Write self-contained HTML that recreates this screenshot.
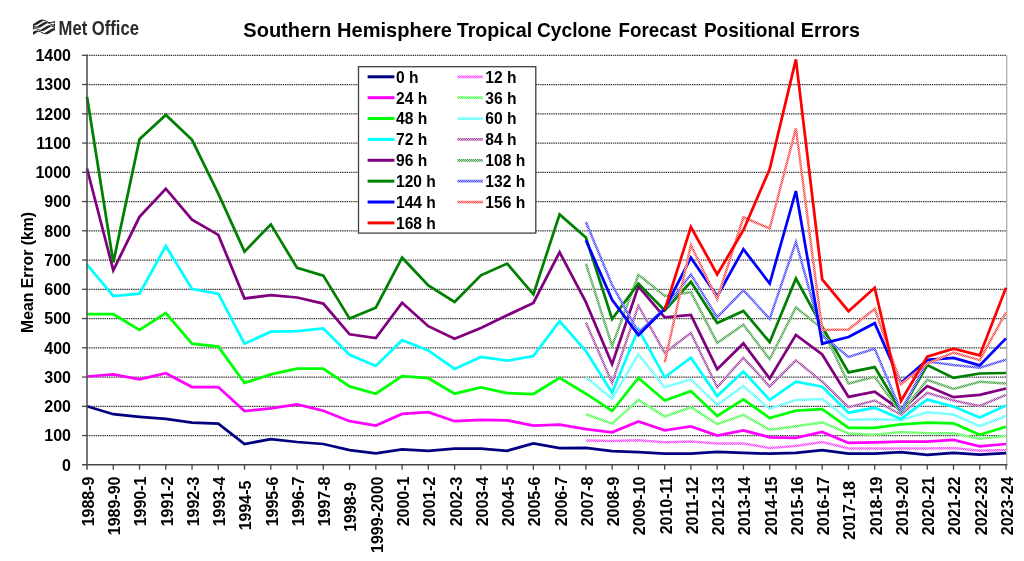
<!DOCTYPE html>
<html><head><meta charset="utf-8"><title>Southern Hemisphere Tropical Cyclone Forecast Positional Errors</title>
<style>
html,body{margin:0;padding:0;background:#fff;}
body{width:1024px;height:561px;overflow:hidden;font-family:"Liberation Sans",sans-serif;}
svg{display:block;}
text{font-family:"Liberation Sans",sans-serif;font-weight:bold;fill:#000;}
svg{will-change:transform;}
</style></head><body>
<svg width="1024" height="561" viewBox="0 0 1024 561">
<rect width="1024" height="561" fill="#fff"/>

<defs>
<pattern id="h108" patternUnits="userSpaceOnUse" width="2" height="2"><rect width="2" height="2" fill="#b8dbb8"/><rect x="0" y="0" width="1" height="1" fill="#47a447"/><rect x="1" y="1" width="1" height="1" fill="#47a447"/></pattern>
<pattern id="h12" patternUnits="userSpaceOnUse" width="2" height="2"><rect width="2" height="2" fill="#ffb8ff"/><rect x="0" y="0" width="1" height="1" fill="#ff47ff"/><rect x="1" y="1" width="1" height="1" fill="#ff47ff"/></pattern>
<pattern id="h132" patternUnits="userSpaceOnUse" width="2" height="2"><rect width="2" height="2" fill="#b8b8ff"/><rect x="0" y="0" width="1" height="1" fill="#4747ff"/><rect x="1" y="1" width="1" height="1" fill="#4747ff"/></pattern>
<pattern id="h156" patternUnits="userSpaceOnUse" width="2" height="2"><rect width="2" height="2" fill="#ffb8b8"/><rect x="0" y="0" width="1" height="1" fill="#ff4747"/><rect x="1" y="1" width="1" height="1" fill="#ff4747"/></pattern>
<pattern id="h36" patternUnits="userSpaceOnUse" width="2" height="2"><rect width="2" height="2" fill="#b8ffb8"/><rect x="0" y="0" width="1" height="1" fill="#47ff47"/><rect x="1" y="1" width="1" height="1" fill="#47ff47"/></pattern>
<pattern id="h60" patternUnits="userSpaceOnUse" width="2" height="2"><rect width="2" height="2" fill="#b8ffff"/><rect x="0" y="0" width="1" height="1" fill="#47ffff"/><rect x="1" y="1" width="1" height="1" fill="#47ffff"/></pattern>
<pattern id="h84" patternUnits="userSpaceOnUse" width="2" height="2"><rect width="2" height="2" fill="#dbb8db"/><rect x="0" y="0" width="1" height="1" fill="#a447a4"/><rect x="1" y="1" width="1" height="1" fill="#a447a4"/></pattern>
</defs>
<text x="243.30" y="36.5" font-size="19.8" textLength="87.90" lengthAdjust="spacingAndGlyphs">Southern</text>
<text x="337.00" y="36.5" font-size="19.8" textLength="114.85" lengthAdjust="spacingAndGlyphs">Hemisphere</text>
<text x="456.70" y="36.5" font-size="19.8" textLength="75.50" lengthAdjust="spacingAndGlyphs">Tropical</text>
<text x="537.00" y="36.5" font-size="19.8" textLength="74.50" lengthAdjust="spacingAndGlyphs">Cyclone</text>
<text x="618.60" y="36.5" font-size="19.8" textLength="78.25" lengthAdjust="spacingAndGlyphs">Forecast</text>
<text x="703.90" y="36.5" font-size="19.8" textLength="91.10" lengthAdjust="spacingAndGlyphs">Positional</text>
<text x="800.80" y="36.5" font-size="19.8" textLength="59.20" lengthAdjust="spacingAndGlyphs">Errors</text>
<g fill="#262626" stroke="none"><path d="M33.00,24.05 L33.27,24.04 L33.55,23.83 L33.83,23.63 L34.10,23.46 L34.38,23.30 L34.65,23.14 L34.92,22.97 L35.20,22.81 L35.48,22.64 L35.75,22.47 L36.02,22.29 L36.30,22.12 L36.58,21.94 L36.85,21.76 L37.12,21.58 L37.40,21.40 L37.67,21.22 L37.95,21.05 L38.23,20.88 L38.50,20.72 L38.77,20.56 L39.05,20.41 L39.33,20.26 L39.60,20.13 L39.88,20.01 L40.15,19.89 L40.42,19.80 L40.70,19.71 L40.98,19.64 L41.25,19.58 L41.52,19.54 L41.80,19.52 L42.08,19.52 L42.35,19.54 L42.62,19.59 L42.90,19.69 L43.17,19.85 L43.45,19.84 L43.73,19.85 L44.00,19.88 L44.27,19.93 L44.55,20.00 L44.83,20.09 L45.10,20.19 L45.38,20.31 L45.65,20.44 L45.92,20.58 L46.20,20.73 L46.48,20.88 L46.75,21.03 L47.02,21.18 L47.30,21.32 L47.58,21.46 L47.85,21.59 L48.12,21.71 L48.40,21.81 L48.67,21.90 L48.95,21.96 L49.23,22.01 L49.50,22.04 L49.77,22.04 L50.05,22.03 L50.33,21.99 L50.60,21.96 L50.88,21.93 L51.15,21.89 L51.42,21.86 L51.70,21.83 L51.98,21.79 L52.25,21.75 L52.52,21.70 L52.80,21.64 L53.08,21.58 L53.35,21.50 L53.62,21.40 L53.90,21.30 L54.17,21.20 L54.45,21.11 L54.73,21.03 L55.00,20.98 L55.00,22.83 L54.73,22.85 L54.45,22.84 L54.17,22.81 L53.90,22.78 L53.62,22.74 L53.35,22.72 L53.08,22.70 L52.80,22.70 L52.52,22.71 L52.25,22.73 L51.98,22.75 L51.70,22.78 L51.42,22.81 L51.15,22.85 L50.88,22.88 L50.60,22.91 L50.33,22.94 L50.05,22.98 L49.77,22.99 L49.50,22.99 L49.23,22.96 L48.95,22.91 L48.67,22.85 L48.40,22.76 L48.12,22.66 L47.85,22.54 L47.58,22.41 L47.30,22.27 L47.02,22.13 L46.75,21.98 L46.48,21.83 L46.20,21.68 L45.92,21.53 L45.65,21.39 L45.38,21.26 L45.10,21.14 L44.83,21.04 L44.55,20.95 L44.27,20.88 L44.00,20.83 L43.73,20.80 L43.45,20.79 L43.17,20.80 L42.90,21.04 L42.62,21.23 L42.35,21.40 L42.08,21.56 L41.80,21.72 L41.52,21.88 L41.25,22.05 L40.98,22.22 L40.70,22.39 L40.42,22.57 L40.15,22.75 L39.88,22.92 L39.60,23.10 L39.33,23.28 L39.05,23.46 L38.77,23.64 L38.50,23.81 L38.23,23.98 L37.95,24.14 L37.67,24.30 L37.40,24.45 L37.12,24.59 L36.85,24.72 L36.58,24.85 L36.30,24.96 L36.02,25.05 L35.75,25.14 L35.48,25.21 L35.20,25.26 L34.92,25.30 L34.65,25.32 L34.38,25.32 L34.10,25.29 L33.83,25.24 L33.55,25.13 L33.27,24.99 L33.00,25.00Z"/><path d="M33.00,24.72 L33.27,24.88 L33.55,25.07 L33.83,25.28 L34.10,25.49 L34.38,25.69 L34.65,25.88 L34.92,26.05 L35.20,26.20 L35.48,26.31 L35.75,26.41 L36.02,26.48 L36.30,26.52 L36.58,26.55 L36.85,26.55 L37.12,26.46 L37.40,26.22 L37.67,26.04 L37.95,25.87 L38.23,25.71 L38.50,25.55 L38.77,25.38 L39.05,25.22 L39.33,25.05 L39.60,24.87 L39.88,24.70 L40.15,24.52 L40.42,24.34 L40.70,24.16 L40.98,23.98 L41.25,23.80 L41.52,23.63 L41.80,23.46 L42.08,23.29 L42.35,23.13 L42.62,22.97 L42.90,22.83 L43.17,22.69 L43.45,22.56 L43.73,22.44 L44.00,22.34 L44.27,22.25 L44.55,22.17 L44.83,22.10 L45.10,22.06 L45.38,22.03 L45.65,22.02 L45.92,22.03 L46.20,22.06 L46.48,22.14 L46.75,22.29 L47.02,22.34 L47.30,22.34 L47.58,22.36 L47.85,22.40 L48.12,22.46 L48.40,22.54 L48.67,22.64 L48.95,22.75 L49.23,22.88 L49.50,23.02 L49.77,23.16 L50.05,23.31 L50.33,23.46 L50.60,23.61 L50.88,23.76 L51.15,23.90 L51.42,24.03 L51.70,24.15 L51.98,24.26 L52.25,24.34 L52.52,24.41 L52.80,24.44 L53.08,24.44 L53.35,24.41 L53.62,24.34 L53.90,24.11 L54.17,23.83 L54.45,23.60 L54.73,23.39 L55.00,23.21 L55.00,26.27 L54.73,26.25 L54.45,26.17 L54.17,26.05 L53.90,25.86 L53.62,25.68 L53.35,25.63 L53.08,25.57 L52.80,25.50 L52.52,25.42 L52.25,25.33 L51.98,25.22 L51.70,25.11 L51.42,24.99 L51.15,24.85 L50.88,24.71 L50.60,24.56 L50.33,24.41 L50.05,24.26 L49.77,24.11 L49.50,23.97 L49.23,23.83 L48.95,23.70 L48.67,23.59 L48.40,23.49 L48.12,23.41 L47.85,23.35 L47.58,23.31 L47.30,23.29 L47.02,23.29 L46.75,23.39 L46.48,23.63 L46.20,23.81 L45.92,23.97 L45.65,24.13 L45.38,24.29 L45.10,24.46 L44.83,24.63 L44.55,24.80 L44.27,24.97 L44.00,25.15 L43.73,25.33 L43.45,25.51 L43.17,25.69 L42.90,25.86 L42.62,26.04 L42.35,26.22 L42.08,26.39 L41.80,26.55 L41.52,26.72 L41.25,26.87 L40.98,27.02 L40.70,27.15 L40.42,27.28 L40.15,27.40 L39.88,27.50 L39.60,27.59 L39.33,27.67 L39.05,27.74 L38.77,27.78 L38.50,27.81 L38.23,27.82 L37.95,27.81 L37.67,27.77 L37.40,27.70 L37.12,27.53 L36.85,27.50 L36.58,27.50 L36.30,27.48 L36.02,27.44 L35.75,27.38 L35.48,27.32 L35.20,27.24 L34.92,27.16 L34.65,27.07 L34.38,26.99 L34.10,26.91 L33.83,26.82 L33.55,26.72 L33.27,26.61 L33.00,26.47Z"/><path d="M33.00,26.82 L33.27,26.86 L33.55,26.95 L33.83,27.11 L34.10,27.32 L34.38,27.37 L34.65,27.43 L34.92,27.51 L35.20,27.59 L35.48,27.68 L35.75,27.79 L36.02,27.90 L36.30,28.02 L36.58,28.16 L36.85,28.30 L37.12,28.44 L37.40,28.59 L37.67,28.75 L37.95,28.90 L38.23,29.04 L38.50,29.18 L38.77,29.31 L39.05,29.42 L39.33,29.52 L39.60,29.61 L39.88,29.67 L40.15,29.72 L40.42,29.74 L40.70,29.75 L40.98,29.73 L41.25,29.45 L41.52,29.27 L41.80,29.10 L42.08,28.94 L42.35,28.78 L42.62,28.61 L42.90,28.45 L43.17,28.28 L43.45,28.10 L43.73,27.93 L44.00,27.75 L44.27,27.57 L44.55,27.39 L44.83,27.21 L45.10,27.03 L45.38,26.86 L45.65,26.69 L45.92,26.52 L46.20,26.36 L46.48,26.20 L46.75,26.05 L47.02,25.91 L47.30,25.78 L47.58,25.66 L47.85,25.56 L48.12,25.46 L48.40,25.38 L48.67,25.32 L48.95,25.26 L49.23,25.23 L49.50,25.22 L49.77,25.22 L50.05,25.26 L50.33,25.32 L50.60,25.45 L50.88,25.55 L51.15,25.54 L51.42,25.55 L51.70,25.59 L51.98,25.64 L52.25,25.71 L52.52,25.79 L52.80,25.88 L53.08,25.97 L53.35,26.06 L53.62,26.14 L53.90,26.22 L54.17,26.30 L54.45,26.39 L54.73,26.50 L55.00,26.63 L55.00,28.48 L54.73,28.32 L54.45,28.13 L54.17,27.91 L53.90,27.69 L53.62,27.48 L53.35,27.27 L53.08,27.09 L52.80,26.94 L52.52,26.80 L52.25,26.69 L51.98,26.61 L51.70,26.55 L51.42,26.51 L51.15,26.49 L50.88,26.50 L50.60,26.65 L50.33,26.86 L50.05,27.04 L49.77,27.20 L49.50,27.36 L49.23,27.52 L48.95,27.69 L48.67,27.86 L48.40,28.03 L48.12,28.20 L47.85,28.38 L47.58,28.56 L47.30,28.74 L47.02,28.92 L46.75,29.10 L46.48,29.27 L46.20,29.45 L45.92,29.62 L45.65,29.78 L45.38,29.94 L45.10,30.10 L44.83,30.24 L44.55,30.38 L44.27,30.50 L44.00,30.62 L43.73,30.72 L43.45,30.81 L43.17,30.88 L42.90,30.94 L42.62,30.99 L42.35,31.01 L42.08,31.02 L41.80,31.00 L41.52,30.96 L41.25,30.88 L40.98,30.68 L40.70,30.70 L40.42,30.69 L40.15,30.67 L39.88,30.62 L39.60,30.56 L39.33,30.47 L39.05,30.37 L38.77,30.26 L38.50,30.13 L38.23,29.99 L37.95,29.85 L37.67,29.70 L37.40,29.54 L37.12,29.39 L36.85,29.25 L36.58,29.11 L36.30,28.98 L36.02,28.86 L35.75,28.76 L35.48,28.69 L35.20,28.63 L34.92,28.61 L34.65,28.62 L34.38,28.67 L34.10,28.74 L33.83,29.02 L33.55,29.27 L33.27,29.47 L33.00,29.65Z"/><path d="M33.00,31.86 L33.27,31.69 L33.55,31.53 L33.83,31.38 L34.10,31.23 L34.38,31.09 L34.65,30.97 L34.92,30.85 L35.20,30.74 L35.48,30.65 L35.75,30.57 L36.02,30.51 L36.30,30.46 L36.58,30.43 L36.85,30.42 L37.12,30.43 L37.40,30.47 L37.67,30.54 L37.95,30.70 L38.23,30.75 L38.50,30.74 L38.77,30.76 L39.05,30.81 L39.33,30.87 L39.60,30.95 L39.88,31.05 L40.15,31.16 L40.42,31.28 L40.70,31.42 L40.98,31.56 L41.25,31.71 L41.52,31.86 L41.80,32.01 L42.08,32.16 L42.35,32.30 L42.62,32.44 L42.90,32.56 L43.17,32.67 L43.45,32.76 L43.73,32.84 L44.00,32.90 L44.27,32.93 L44.55,32.95 L44.83,32.94 L45.10,32.77 L45.38,32.57 L45.65,32.39 L45.92,32.23 L46.20,32.07 L46.48,31.90 L46.75,31.74 L47.02,31.57 L47.30,31.40 L47.58,31.22 L47.85,31.05 L48.12,30.87 L48.40,30.69 L48.67,30.51 L48.95,30.33 L49.23,30.15 L49.50,29.98 L49.77,29.81 L50.05,29.64 L50.33,29.49 L50.60,29.33 L50.88,29.19 L51.15,29.05 L51.42,28.93 L51.70,28.81 L51.98,28.70 L52.25,28.61 L52.52,28.52 L52.80,28.44 L53.08,28.36 L53.35,28.29 L53.62,28.22 L53.90,28.17 L54.17,28.15 L54.45,28.17 L54.73,28.32 L55.00,28.29 L55.00,30.14 L54.73,30.14 L54.45,30.37 L54.17,30.49 L53.90,30.59 L53.62,30.68 L53.35,30.78 L53.08,30.90 L52.80,31.03 L52.52,31.18 L52.25,31.34 L51.98,31.51 L51.70,31.68 L51.42,31.86 L51.15,32.04 L50.88,32.22 L50.60,32.39 L50.33,32.57 L50.05,32.74 L49.77,32.91 L49.50,33.07 L49.23,33.23 L48.95,33.38 L48.67,33.52 L48.40,33.65 L48.12,33.77 L47.85,33.88 L47.58,33.97 L47.30,34.05 L47.02,34.12 L46.75,34.17 L46.48,34.20 L46.20,34.22 L45.92,34.21 L45.65,34.18 L45.38,34.12 L45.10,34.00 L44.83,33.89 L44.55,33.90 L44.27,33.88 L44.00,33.85 L43.73,33.79 L43.45,33.71 L43.17,33.62 L42.90,33.51 L42.62,33.39 L42.35,33.25 L42.08,33.11 L41.80,32.96 L41.52,32.81 L41.25,32.66 L40.98,32.51 L40.70,32.37 L40.42,32.23 L40.15,32.11 L39.88,32.00 L39.60,31.90 L39.33,31.82 L39.05,31.76 L38.77,31.71 L38.50,31.69 L38.23,31.70 L37.95,31.80 L37.67,32.03 L37.40,32.21 L37.12,32.37 L36.85,32.54 L36.58,32.70 L36.30,32.86 L36.02,33.03 L35.75,33.20 L35.48,33.38 L35.20,33.55 L34.92,33.73 L34.65,33.91 L34.38,34.09 L34.10,34.27 L33.83,34.45 L33.55,34.62 L33.27,34.79 L33.00,34.96Z"/></g>
<text x="58.6" y="35" font-size="19.8" textLength="80.4" lengthAdjust="spacingAndGlyphs" style="fill:#2b2b2b">Met Office</text>
<g stroke="#383838" stroke-width="1.3" stroke-dasharray="1.4 0.8" fill="none">
<line x1="87.00" y1="435.55" x2="1006.50" y2="435.55"/>
<line x1="87.00" y1="406.30" x2="1006.50" y2="406.30"/>
<line x1="87.00" y1="377.05" x2="1006.50" y2="377.05"/>
<line x1="87.00" y1="347.80" x2="1006.50" y2="347.80"/>
<line x1="87.00" y1="318.55" x2="1006.50" y2="318.55"/>
<line x1="87.00" y1="289.30" x2="1006.50" y2="289.30"/>
<line x1="87.00" y1="260.05" x2="1006.50" y2="260.05"/>
<line x1="87.00" y1="230.80" x2="1006.50" y2="230.80"/>
<line x1="87.00" y1="201.55" x2="1006.50" y2="201.55"/>
<line x1="87.00" y1="172.30" x2="1006.50" y2="172.30"/>
<line x1="87.00" y1="143.05" x2="1006.50" y2="143.05"/>
<line x1="87.00" y1="113.80" x2="1006.50" y2="113.80"/>
<line x1="87.00" y1="84.55" x2="1006.50" y2="84.55"/>
<line x1="87.00" y1="55.30" x2="1006.50" y2="55.30"/>
</g>
<line x1="1006.7" y1="55.30" x2="1006.7" y2="464.80" stroke="#b4b4b4" stroke-width="1.4"/>
<g fill="none" stroke-width="2.75" stroke-linejoin="miter" stroke-linecap="butt">
<polyline points="87.0,406.3 113.3,414.2 139.5,416.8 165.8,418.9 192.0,422.7 218.3,423.6 244.5,444.0 270.8,439.1 297.1,442.0 323.3,444.0 349.6,450.2 375.8,453.4 402.1,449.3 428.3,450.8 454.6,448.7 480.9,448.7 507.1,450.8 533.4,443.4 559.6,448.1 585.9,447.8 612.1,451.1 638.4,452.2 664.7,453.7 690.9,453.7 717.2,451.9 743.4,452.8 769.7,453.7 795.9,452.8 822.2,450.2 848.5,453.7 874.7,453.7 901.0,452.2 927.2,454.9 953.5,452.8 979.7,454.6 1006.0,453.1" stroke="#000080"/>
<polyline points="585.9,440.5 612.1,441.1 638.4,440.2 664.7,442.3 690.9,441.4 717.2,443.4 743.4,443.4 769.7,448.1 795.9,446.1 822.2,442.0 848.5,448.4 874.7,448.4 901.0,448.4 927.2,448.4 953.5,448.1 979.7,450.8 1006.0,449.9" stroke="url(#h12)" stroke-width="2.5"/>
<polyline points="87.0,376.5 113.3,374.4 139.5,379.4 165.8,373.2 192.0,387.0 218.3,387.0 244.5,411.0 270.8,408.3 297.1,404.3 323.3,410.7 349.6,421.2 375.8,425.6 402.1,413.9 428.3,412.2 454.6,421.2 480.9,419.8 507.1,420.3 533.4,425.6 559.6,424.7 585.9,429.1 612.1,432.3 638.4,421.5 664.7,430.3 690.9,426.5 717.2,435.6 743.4,430.3 769.7,437.3 795.9,437.9 822.2,432.0 848.5,442.9 874.7,442.3 901.0,441.7 927.2,441.7 953.5,439.9 979.7,446.4 1006.0,444.0" stroke="#ff00ff"/>
<polyline points="585.9,414.2 612.1,423.6 638.4,399.9 664.7,416.5 690.9,407.2 717.2,424.1 743.4,414.8 769.7,429.7 795.9,426.2 822.2,422.4 848.5,433.5 874.7,434.7 901.0,432.0 927.2,433.2 953.5,433.2 979.7,438.8 1006.0,436.1" stroke="url(#h36)" stroke-width="2.5"/>
<polyline points="87.0,314.2 113.3,314.2 139.5,330.0 165.8,313.0 192.0,343.7 218.3,346.6 244.5,382.9 270.8,374.4 297.1,368.6 323.3,368.6 349.6,386.4 375.8,393.7 402.1,376.2 428.3,378.2 454.6,393.7 480.9,387.3 507.1,393.1 533.4,394.0 559.6,377.9 585.9,393.7 612.1,411.0 638.4,377.9 664.7,400.5 690.9,391.1 717.2,416.0 743.4,399.3 769.7,418.0 795.9,410.7 822.2,409.2 848.5,427.9 874.7,427.9 901.0,424.4 927.2,422.7 953.5,423.3 979.7,434.7 1006.0,426.8" stroke="#00ff00"/>
<polyline points="585.9,377.3 612.1,398.7 638.4,354.2 664.7,387.3 690.9,379.4 717.2,404.8 743.4,386.1 769.7,408.9 795.9,399.9 822.2,399.0 848.5,419.8 874.7,419.2 901.0,420.0 927.2,412.2 953.5,414.5 979.7,426.2 1006.0,416.0" stroke="url(#h60)" stroke-width="2.5"/>
<polyline points="87.0,264.7 113.3,296.0 139.5,293.7 165.8,246.0 192.0,289.0 218.3,293.7 244.5,343.7 270.8,331.7 297.1,331.1 323.3,328.5 349.6,354.8 375.8,365.9 402.1,340.2 428.3,350.4 454.6,368.9 480.9,356.9 507.1,360.7 533.4,356.0 559.6,321.2 585.9,351.0 612.1,392.8 638.4,329.1 664.7,377.3 690.9,357.7 717.2,396.1 743.4,371.5 769.7,399.9 795.9,381.7 822.2,386.7 848.5,412.7 874.7,407.8 901.0,418.9 927.2,399.6 953.5,406.6 979.7,417.4 1006.0,405.4" stroke="#00ffff"/>
<polyline points="585.9,322.4 612.1,382.9 638.4,305.7 664.7,352.8 690.9,332.9 717.2,387.3 743.4,357.7 769.7,386.7 795.9,360.4 822.2,381.7 848.5,407.2 874.7,400.5 901.0,414.5 927.2,392.8 953.5,400.5 979.7,406.0 1006.0,394.9" stroke="url(#h84)" stroke-width="2.5"/>
<polyline points="87.0,168.5 113.3,270.3 139.5,216.8 165.8,188.7 192.0,219.7 218.3,234.9 244.5,298.4 270.8,295.2 297.1,297.5 323.3,303.6 349.6,334.3 375.8,338.1 402.1,302.8 428.3,326.2 454.6,338.7 480.9,327.9 507.1,315.3 533.4,303.0 559.6,252.2 585.9,302.2 612.1,364.2 638.4,286.4 664.7,317.4 690.9,315.0 717.2,369.2 743.4,343.4 769.7,378.5 795.9,334.9 822.2,354.5 848.5,396.9 874.7,391.7 901.0,410.4 927.2,386.1 953.5,397.2 979.7,394.9 1006.0,388.5" stroke="#800080"/>
<polyline points="585.9,263.6 612.1,346.0 638.4,274.7 664.7,296.0 690.9,292.2 717.2,342.8 743.4,324.7 769.7,359.2 795.9,307.4 822.2,328.8 848.5,383.5 874.7,376.8 901.0,413.0 927.2,379.7 953.5,389.0 979.7,381.7 1006.0,383.5" stroke="url(#h108)" stroke-width="2.5"/>
<polyline points="87.0,96.8 113.3,262.4 139.5,139.2 165.8,115.0 192.0,139.8 218.3,193.7 244.5,251.6 270.8,224.4 297.1,267.9 323.3,275.6 349.6,318.6 375.8,307.7 402.1,257.7 428.3,285.5 454.6,301.9 480.9,275.3 507.1,263.6 533.4,294.3 559.6,214.4 585.9,237.5 612.1,319.1 638.4,283.5 664.7,310.4 690.9,281.7 717.2,322.9 743.4,310.9 769.7,342.2 795.9,278.5 822.2,326.7 848.5,372.4 874.7,367.1 901.0,411.0 927.2,365.1 953.5,377.9 979.7,373.5 1006.0,373.0" stroke="#008000"/>
<polyline points="585.9,222.0 612.1,284.9 638.4,332.3 664.7,308.6 690.9,274.4 717.2,317.4 743.4,290.2 769.7,318.8 795.9,241.9 822.2,335.5 848.5,356.9 874.7,348.7 901.0,411.0 927.2,361.5 953.5,365.1 979.7,367.7 1006.0,359.8" stroke="url(#h132)" stroke-width="2.5"/>
<polyline points="585.9,240.2 612.1,299.8 638.4,335.2 664.7,308.9 690.9,257.7 717.2,296.3 743.4,249.2 769.7,283.5 795.9,191.0 822.2,343.7 848.5,337.0 874.7,323.2 901.0,382.9 927.2,359.8 953.5,358.0 979.7,365.4 1006.0,338.4" stroke="#0000ff"/>
<polyline points="664.7,362.4 690.9,245.1 717.2,299.2 743.4,217.3 769.7,228.5 795.9,128.4 822.2,330.0 848.5,329.4 874.7,308.9 901.0,384.1 927.2,363.6 953.5,352.5 979.7,360.1 1006.0,312.4" stroke="url(#h156)" stroke-width="2.5"/>
<polyline points="664.7,309.8 690.9,227.0 717.2,274.4 743.4,230.2 769.7,169.1 795.9,59.4 822.2,279.4 848.5,311.2 874.7,287.8 901.0,401.0 927.2,356.6 953.5,348.7 979.7,355.4 1006.0,287.8" stroke="#ff0000"/>
</g>
<g stroke="#484848" stroke-width="1.5" fill="none">
<line x1="87.00" y1="54.80" x2="87.00" y2="469.80"/>
<line x1="82.00" y1="464.80" x2="1007.40" y2="464.80"/>
</g><g stroke="#484848" stroke-width="1.3" fill="none">
<line x1="82.00" y1="435.55" x2="87.00" y2="435.55"/>
<line x1="82.00" y1="406.30" x2="87.00" y2="406.30"/>
<line x1="82.00" y1="377.05" x2="87.00" y2="377.05"/>
<line x1="82.00" y1="347.80" x2="87.00" y2="347.80"/>
<line x1="82.00" y1="318.55" x2="87.00" y2="318.55"/>
<line x1="82.00" y1="289.30" x2="87.00" y2="289.30"/>
<line x1="82.00" y1="260.05" x2="87.00" y2="260.05"/>
<line x1="82.00" y1="230.80" x2="87.00" y2="230.80"/>
<line x1="82.00" y1="201.55" x2="87.00" y2="201.55"/>
<line x1="82.00" y1="172.30" x2="87.00" y2="172.30"/>
<line x1="82.00" y1="143.05" x2="87.00" y2="143.05"/>
<line x1="82.00" y1="113.80" x2="87.00" y2="113.80"/>
<line x1="82.00" y1="84.55" x2="87.00" y2="84.55"/>
<line x1="82.00" y1="55.30" x2="87.00" y2="55.30"/>
<line x1="113.26" y1="464.80" x2="113.26" y2="469.80"/>
<line x1="139.51" y1="464.80" x2="139.51" y2="469.80"/>
<line x1="165.77" y1="464.80" x2="165.77" y2="469.80"/>
<line x1="192.03" y1="464.80" x2="192.03" y2="469.80"/>
<line x1="218.29" y1="464.80" x2="218.29" y2="469.80"/>
<line x1="244.54" y1="464.80" x2="244.54" y2="469.80"/>
<line x1="270.80" y1="464.80" x2="270.80" y2="469.80"/>
<line x1="297.06" y1="464.80" x2="297.06" y2="469.80"/>
<line x1="323.31" y1="464.80" x2="323.31" y2="469.80"/>
<line x1="349.57" y1="464.80" x2="349.57" y2="469.80"/>
<line x1="375.83" y1="464.80" x2="375.83" y2="469.80"/>
<line x1="402.09" y1="464.80" x2="402.09" y2="469.80"/>
<line x1="428.34" y1="464.80" x2="428.34" y2="469.80"/>
<line x1="454.60" y1="464.80" x2="454.60" y2="469.80"/>
<line x1="480.86" y1="464.80" x2="480.86" y2="469.80"/>
<line x1="507.11" y1="464.80" x2="507.11" y2="469.80"/>
<line x1="533.37" y1="464.80" x2="533.37" y2="469.80"/>
<line x1="559.63" y1="464.80" x2="559.63" y2="469.80"/>
<line x1="585.89" y1="464.80" x2="585.89" y2="469.80"/>
<line x1="612.14" y1="464.80" x2="612.14" y2="469.80"/>
<line x1="638.40" y1="464.80" x2="638.40" y2="469.80"/>
<line x1="664.66" y1="464.80" x2="664.66" y2="469.80"/>
<line x1="690.91" y1="464.80" x2="690.91" y2="469.80"/>
<line x1="717.17" y1="464.80" x2="717.17" y2="469.80"/>
<line x1="743.43" y1="464.80" x2="743.43" y2="469.80"/>
<line x1="769.69" y1="464.80" x2="769.69" y2="469.80"/>
<line x1="795.94" y1="464.80" x2="795.94" y2="469.80"/>
<line x1="822.20" y1="464.80" x2="822.20" y2="469.80"/>
<line x1="848.46" y1="464.80" x2="848.46" y2="469.80"/>
<line x1="874.71" y1="464.80" x2="874.71" y2="469.80"/>
<line x1="900.97" y1="464.80" x2="900.97" y2="469.80"/>
<line x1="927.23" y1="464.80" x2="927.23" y2="469.80"/>
<line x1="953.49" y1="464.80" x2="953.49" y2="469.80"/>
<line x1="979.74" y1="464.80" x2="979.74" y2="469.80"/>
<line x1="1006.00" y1="464.80" x2="1006.00" y2="469.80"/>
</g>
<g font-size="16" text-anchor="end">
<text x="71" y="470.50">0</text>
<text x="71" y="441.25">100</text>
<text x="71" y="412.00">200</text>
<text x="71" y="382.75">300</text>
<text x="71" y="353.50">400</text>
<text x="71" y="324.25">500</text>
<text x="71" y="295.00">600</text>
<text x="71" y="265.75">700</text>
<text x="71" y="236.50">800</text>
<text x="71" y="207.25">900</text>
<text x="71" y="178.00">1000</text>
<text x="71" y="148.75">1100</text>
<text x="71" y="119.50">1200</text>
<text x="71" y="90.25">1300</text>
<text x="71" y="61.00">1400</text>
</g>
<text transform="translate(32.6,333) rotate(-90)" font-size="15.8" textLength="121" lengthAdjust="spacingAndGlyphs">Mean Error (km)</text>
<g font-size="16" text-anchor="end">
<text transform="translate(93.90,476.50) rotate(-90)">1988-9</text>
<text transform="translate(120.16,476.50) rotate(-90)">1989-90</text>
<text transform="translate(146.41,476.50) rotate(-90)">1990-1</text>
<text transform="translate(172.67,476.50) rotate(-90)">1991-2</text>
<text transform="translate(198.93,476.50) rotate(-90)">1992-3</text>
<text transform="translate(225.19,476.50) rotate(-90)">1993-4</text>
<text transform="translate(251.44,480.50) rotate(-90)">1994-5</text>
<text transform="translate(277.70,476.50) rotate(-90)">1995-6</text>
<text transform="translate(303.96,476.50) rotate(-90)">1996-7</text>
<text transform="translate(330.21,476.50) rotate(-90)">1997-8</text>
<text transform="translate(356.47,482.00) rotate(-90)">1998-9</text>
<text transform="translate(382.73,476.50) rotate(-90)">1999-2000</text>
<text transform="translate(408.99,476.50) rotate(-90)">2000-1</text>
<text transform="translate(435.24,476.50) rotate(-90)">2001-2</text>
<text transform="translate(461.50,476.50) rotate(-90)">2002-3</text>
<text transform="translate(487.76,476.50) rotate(-90)">2003-4</text>
<text transform="translate(514.01,476.50) rotate(-90)">2004-5</text>
<text transform="translate(540.27,476.50) rotate(-90)">2005-6</text>
<text transform="translate(566.53,476.50) rotate(-90)">2006-7</text>
<text transform="translate(592.79,476.50) rotate(-90)">2007-8</text>
<text transform="translate(619.04,476.50) rotate(-90)">2008-9</text>
<text transform="translate(645.30,476.50) rotate(-90)">2009-10</text>
<text transform="translate(671.56,476.50) rotate(-90)">2010-11</text>
<text transform="translate(697.81,476.50) rotate(-90)">2011-12</text>
<text transform="translate(724.07,476.50) rotate(-90)">2012-13</text>
<text transform="translate(750.33,476.50) rotate(-90)">2013-14</text>
<text transform="translate(776.59,476.50) rotate(-90)">2014-15</text>
<text transform="translate(802.84,476.50) rotate(-90)">2015-16</text>
<text transform="translate(829.10,476.50) rotate(-90)">2016-17</text>
<text transform="translate(855.36,481.00) rotate(-90)">2017-18</text>
<text transform="translate(881.61,476.50) rotate(-90)">2018-19</text>
<text transform="translate(907.87,476.50) rotate(-90)">2019-20</text>
<text transform="translate(934.13,476.50) rotate(-90)">2020-21</text>
<text transform="translate(960.39,476.50) rotate(-90)">2021-22</text>
<text transform="translate(986.64,476.50) rotate(-90)">2022-23</text>
<text transform="translate(1012.90,476.50) rotate(-90)">2023-24</text>
</g>
<rect x="358.5" y="66.7" width="177.3" height="166.4" fill="#fff" stroke="#404040" stroke-width="1.3"/>
<g font-size="15.6">
<line x1="367.6" y1="76.80" x2="394.4" y2="76.80" stroke="#000080" stroke-width="3"/>
<text x="396" y="82.65">0 h</text>
<line x1="457.3" y1="76.80" x2="482.9" y2="76.81" stroke="url(#h12)" stroke-width="2.7"/>
<text x="485.3" y="82.65">12 h</text>
<line x1="367.6" y1="97.67" x2="394.4" y2="97.67" stroke="#ff00ff" stroke-width="3"/>
<text x="396" y="103.52">24 h</text>
<line x1="457.3" y1="97.67" x2="482.9" y2="97.68" stroke="url(#h36)" stroke-width="2.7"/>
<text x="485.3" y="103.52">36 h</text>
<line x1="367.6" y1="118.54" x2="394.4" y2="118.54" stroke="#00ff00" stroke-width="3"/>
<text x="396" y="124.39">48 h</text>
<line x1="457.3" y1="118.54" x2="482.9" y2="118.55" stroke="url(#h60)" stroke-width="2.7"/>
<text x="485.3" y="124.39">60 h</text>
<line x1="367.6" y1="139.41" x2="394.4" y2="139.41" stroke="#00ffff" stroke-width="3"/>
<text x="396" y="145.26">72 h</text>
<line x1="457.3" y1="139.41" x2="482.9" y2="139.42" stroke="url(#h84)" stroke-width="2.7"/>
<text x="485.3" y="145.26">84 h</text>
<line x1="367.6" y1="160.28" x2="394.4" y2="160.28" stroke="#800080" stroke-width="3"/>
<text x="396" y="166.13">96 h</text>
<line x1="457.3" y1="160.28" x2="482.9" y2="160.29" stroke="url(#h108)" stroke-width="2.7"/>
<text x="485.3" y="166.13">108 h</text>
<line x1="367.6" y1="181.15" x2="394.4" y2="181.15" stroke="#008000" stroke-width="3"/>
<text x="396" y="187.00">120 h</text>
<line x1="457.3" y1="181.15" x2="482.9" y2="181.16" stroke="url(#h132)" stroke-width="2.7"/>
<text x="485.3" y="187.00">132 h</text>
<line x1="367.6" y1="202.02" x2="394.4" y2="202.02" stroke="#0000ff" stroke-width="3"/>
<text x="396" y="207.87">144 h</text>
<line x1="457.3" y1="202.02" x2="482.9" y2="202.03" stroke="url(#h156)" stroke-width="2.7"/>
<text x="485.3" y="207.87">156 h</text>
<line x1="367.6" y1="222.89" x2="394.4" y2="222.89" stroke="#ff0000" stroke-width="3"/>
<text x="396" y="228.74">168 h</text>
</g>
</svg></body></html>
